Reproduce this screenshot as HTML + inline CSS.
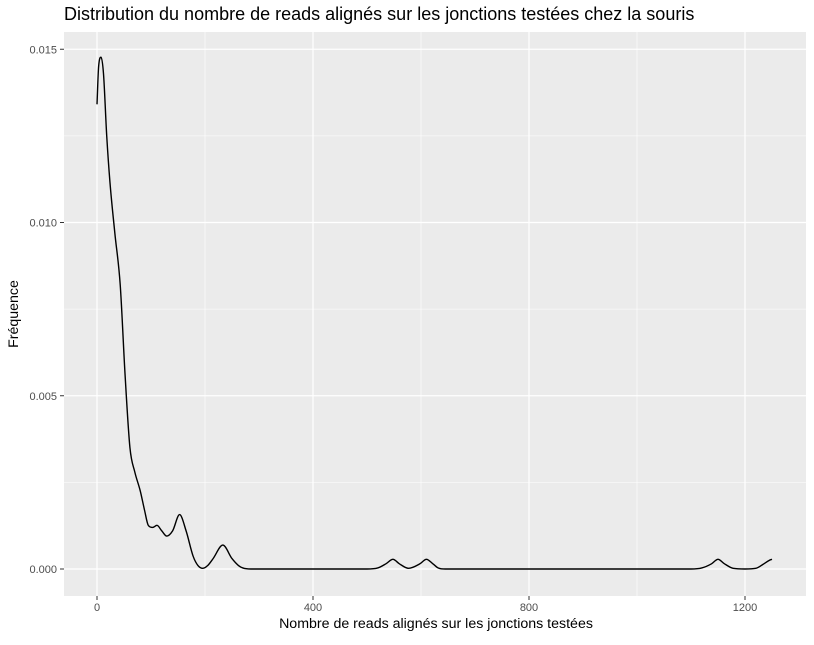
<!DOCTYPE html>
<html><head><meta charset="utf-8"><style>
body{margin:0;background:#fff;}
svg text{font-family:"Liberation Sans",sans-serif;}
</style></head><body>
<svg width="814" height="640" id="chart">
<text x="64" y="20" font-size="18" fill="#000">Distribution du nombre de reads alignés sur les jonctions testées chez la souris</text>
<rect x="64" y="32" width="742" height="564" fill="#ebebeb"/>
<g id="grid"></g>
<g id="axes"></g>
<path id="curve" fill="none" stroke="#000" stroke-width="1.4"/>
<text x="436" y="628" font-size="14.2" text-anchor="middle">Nombre de reads alignés sur les jonctions testées</text>
<text transform="translate(18,314) rotate(-90)" font-size="14.2" text-anchor="middle">Fréquence</text>
</svg>
<script>
const xTicks=[0,400,800,1200];
const xMinor=[200,600,1000];
const yTicks=[0,0.005,0.010,0.015];
const yTickLabels=["0.000","0.005","0.010","0.015"];
const yMinor=[0.0025,0.0075,0.0125];
const xs=[0,3,7.5,12,18,24,33,43,52,61,70,80,88,95,103,111,120,129,140,153,165,178,187,196,205,215,233,250,262,270,285,500,520,535,548,560,577,598,610,622,632,645,670,1100,1120,1138,1150,1162,1178,1200,1220,1235,1245,1250];
const ys=[0.01341,0.0145,0.01477,0.0143,0.0125,0.01116,0.0097,0.0082,0.0056,0.0035,0.0028,0.00226,0.0017,0.00126,0.0012,0.00126,0.0011,0.00095,0.0011,0.00157,0.0011,0.00037,0.0001,0.00002,0.0001,0.0003,0.00069,0.0003,0.0001,0.00003,0,0,0.00003,0.00015,0.00028,0.00015,0.00002,0.00015,0.00028,0.00015,0.00003,0,0,0,0.00003,0.00015,0.00028,0.00015,0.00002,0,0.00002,0.00015,0.00025,0.00028];
const X=v=>97+v*0.54;
const Y=v=>569-v*34650;
const NS="http://www.w3.org/2000/svg";
const grid=document.getElementById('grid'),axes=document.getElementById('axes');
function line(p,x1,y1,x2,y2,c,w){const l=document.createElementNS(NS,'line');l.setAttribute('x1',x1);l.setAttribute('y1',y1);l.setAttribute('x2',x2);l.setAttribute('y2',y2);l.setAttribute('stroke',c);l.setAttribute('stroke-width',w);p.appendChild(l);return l;}
function txt(s,x,y,a){const t=document.createElementNS(NS,'text');t.textContent=s;t.setAttribute('x',x);t.setAttribute('y',y);t.setAttribute('font-size','11');t.setAttribute('fill','#4d4d4d');t.setAttribute('text-anchor',a);axes.appendChild(t);return t;}
yMinor.forEach(v=>{const l=line(grid,64,Y(v),806,Y(v),'#fff',0.6);

});
xMinor.forEach(v=>{const l=line(grid,X(v),32,X(v),596,'#fff',0.6);

});
yTicks.forEach((v,i)=>{const l=line(grid,64,Y(v),806,Y(v),'#fff',1.2);


line(axes,60,Y(v),64,Y(v),'#333',1);
const t=txt(yTickLabels[i],57,Y(v)+4,'end');

});
xTicks.forEach(v=>{const l=line(grid,X(v),32,X(v),596,'#fff',1.2);


line(axes,X(v),596,X(v),600,'#333',1);
const t=txt(String(v),X(v),611,'middle');

});
const px=xs.map(X),py=ys.map(Y),n=px.length;
const dl=[],m=[];
for(let i=0;i<n-1;i++)dl.push((py[i+1]-py[i])/(px[i+1]-px[i]));
m[0]=dl[0];m[n-1]=dl[n-2];
for(let i=1;i<n-1;i++){m[i]=(dl[i-1]*dl[i]<=0)?0:(dl[i-1]+dl[i])/2;}
for(let i=0;i<n-1;i++){if(dl[i]===0){m[i]=0;m[i+1]=0;continue;}const a=m[i]/dl[i],b=m[i+1]/dl[i],s=a*a+b*b;if(s>9){const t=3/Math.sqrt(s);m[i]=t*a*dl[i];m[i+1]=t*b*dl[i];}}
let d='M'+px[0].toFixed(2)+','+py[0].toFixed(2);
for(let i=0;i<n-1;i++){const h=(px[i+1]-px[i])/3;
d+='C'+(px[i]+h).toFixed(2)+','+(py[i]+m[i]*h).toFixed(2)+' '+(px[i+1]-h).toFixed(2)+','+(py[i+1]-m[i+1]*h).toFixed(2)+' '+px[i+1].toFixed(2)+','+py[i+1].toFixed(2);}
document.getElementById('curve').setAttribute('d',d);
</script>
</body></html>
